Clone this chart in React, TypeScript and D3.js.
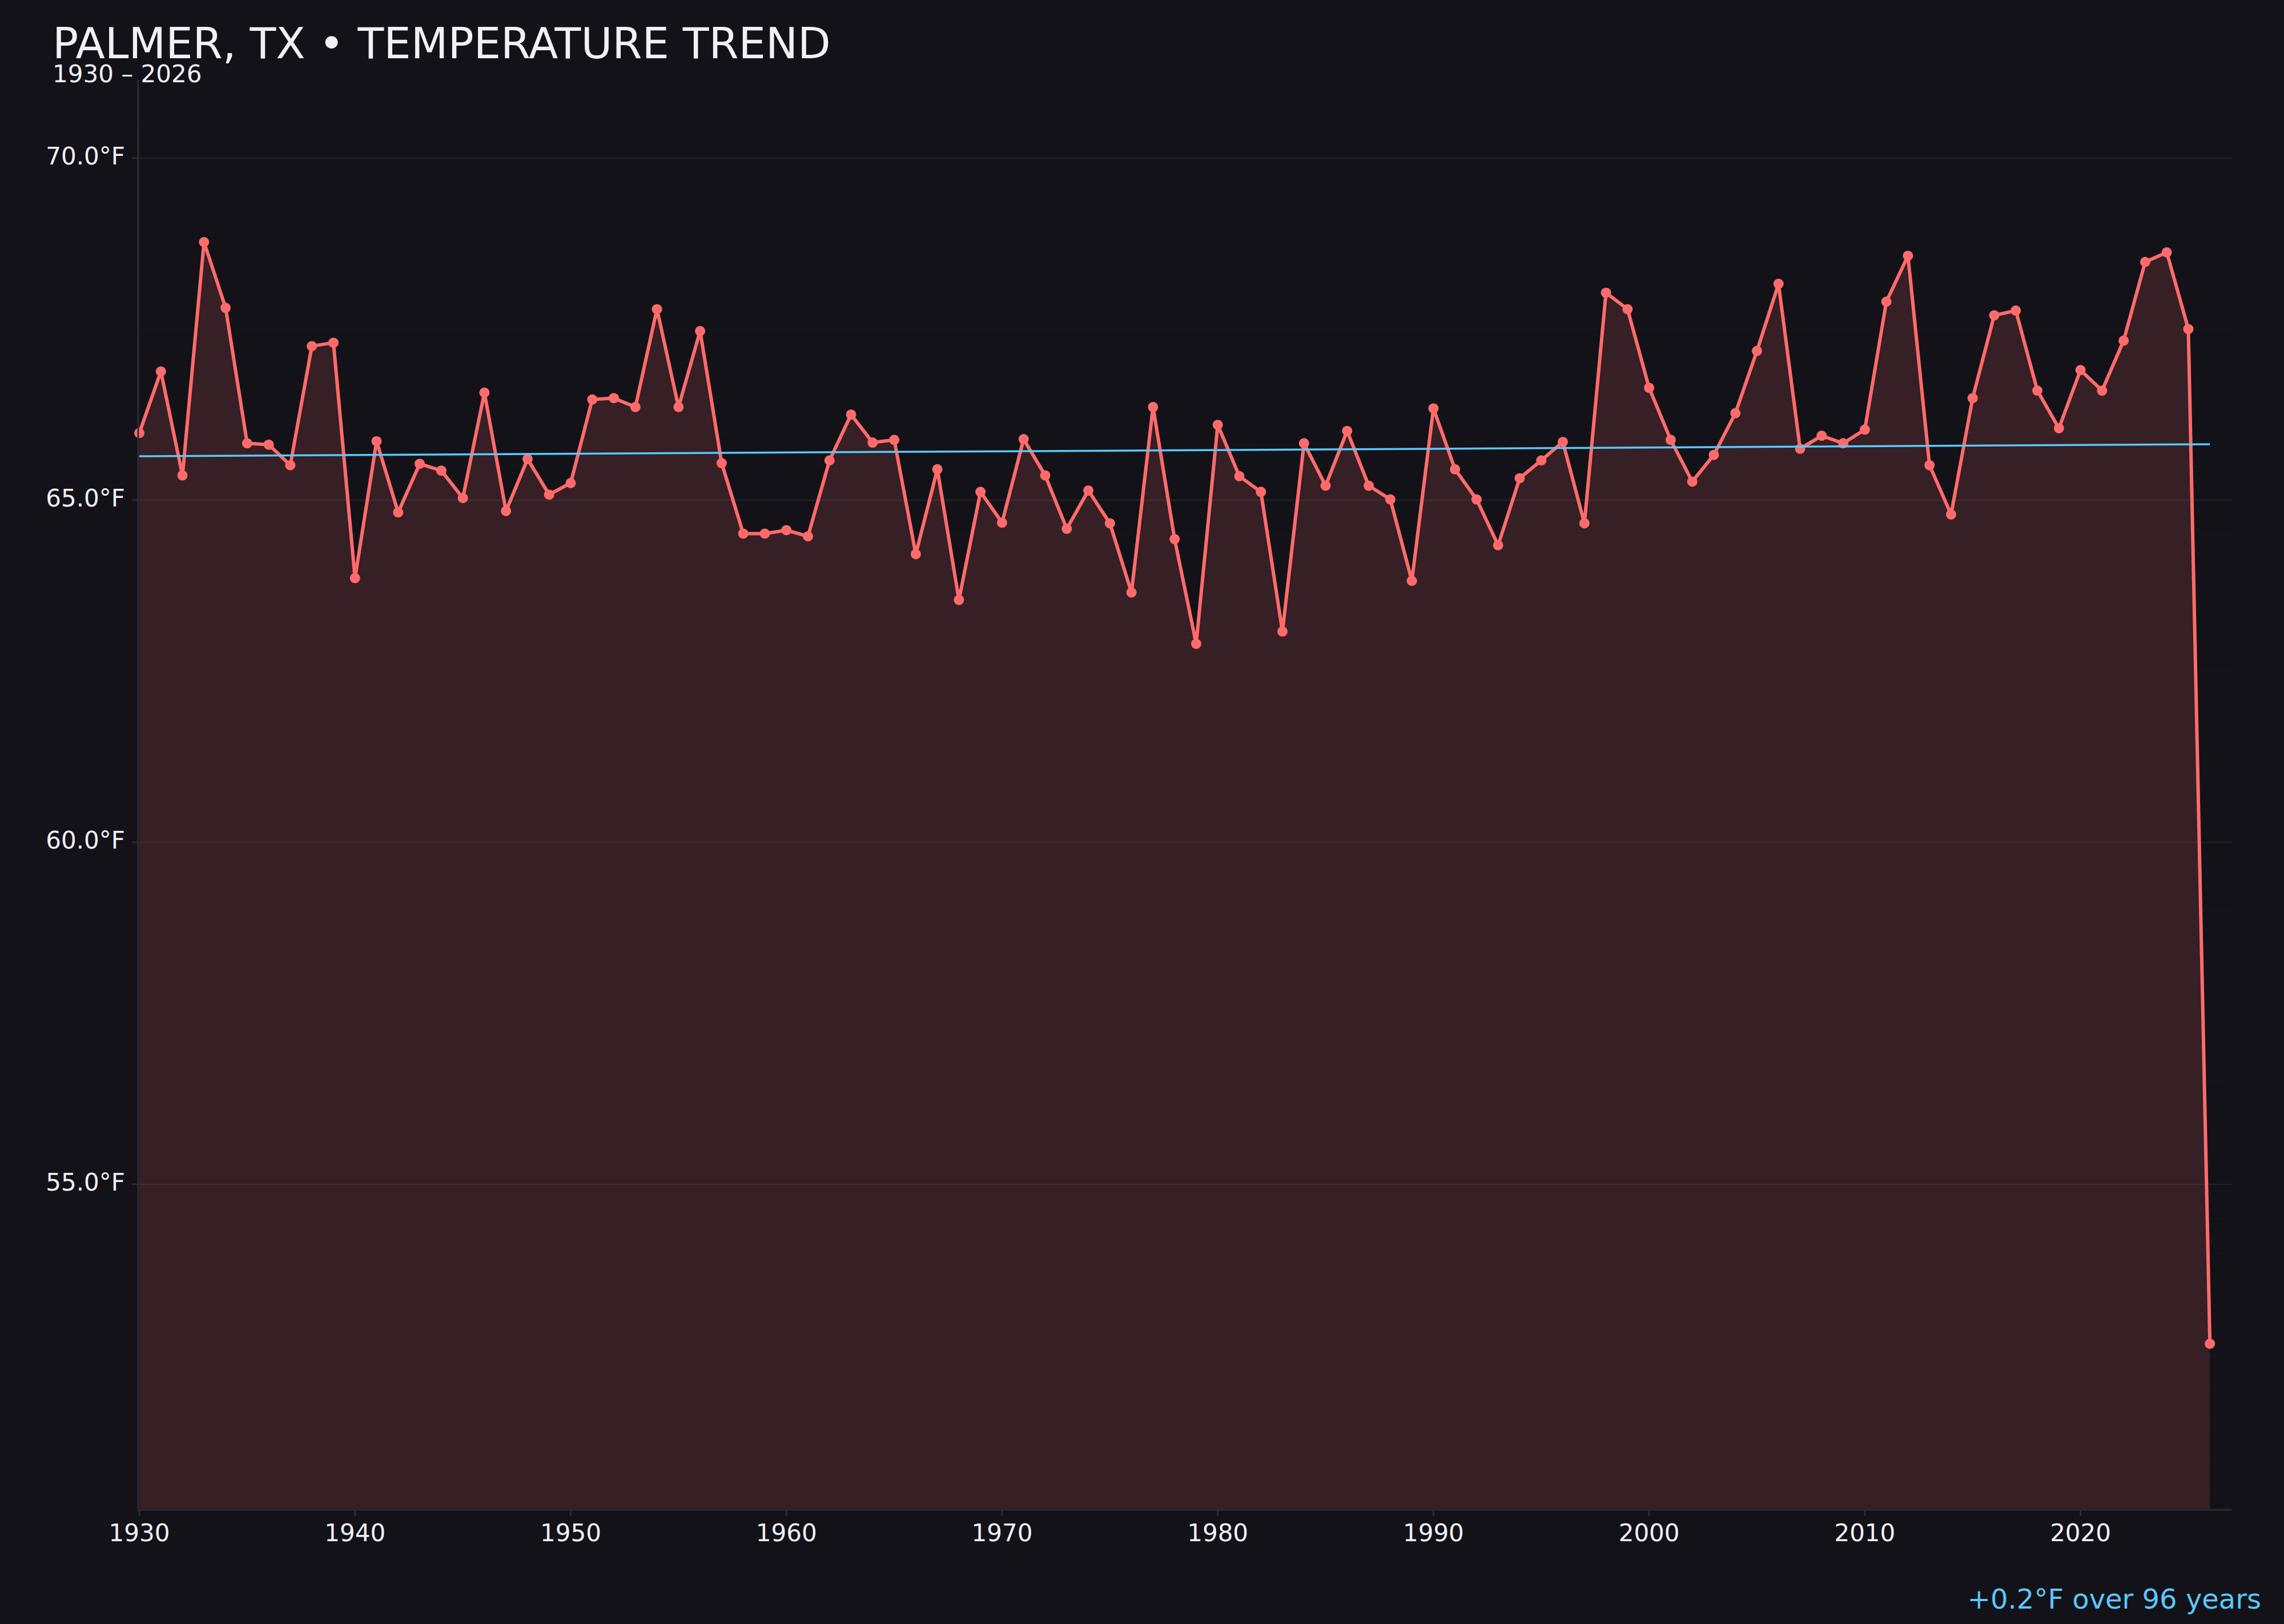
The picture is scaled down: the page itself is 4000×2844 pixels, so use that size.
import React, { useEffect, useRef } from 'react';
import * as d3 from 'd3';

// Annual mean temperature, Palmer TX (°F), 1930 – 2026
const years = d3.range(1930, 2027);
const temps = [
  65.98, 66.88, 65.36, 68.77, 67.81, 65.83, 65.81, 65.51, 67.25, 67.30,
  63.86, 65.86, 64.82, 65.53, 65.43, 65.03, 66.57, 64.84, 65.60, 65.08,
  65.25, 66.47, 66.49, 66.36, 67.79, 66.36, 67.47, 65.54, 64.51, 64.51,
  64.56, 64.47, 65.58, 66.25, 65.84, 65.88, 64.21, 65.45, 63.54, 65.12,
  64.67, 65.89, 65.36, 64.58, 65.14, 64.66, 63.65, 66.36, 64.43, 62.90,
  66.10, 65.35, 65.12, 63.08, 65.83, 65.21, 66.01, 65.21, 65.01, 63.82,
  66.34, 65.45, 65.01, 64.34, 65.32, 65.58, 65.85, 64.66, 68.03, 67.79,
  66.64, 65.88, 65.27, 65.66, 66.27, 67.18, 68.16, 65.75, 65.94, 65.83,
  66.03, 67.90, 68.57, 65.51, 64.79, 66.49, 67.70, 67.77, 66.60, 66.05,
  66.90, 66.60, 67.33, 68.48, 68.62, 67.50, 52.67,
];

const yTicks = [55, 60, 65, 70];
const yMinorTicks = d3.range(101, 143).map(d => d / 2);
const xTicks = d3.range(1930, 2030, 10);
const yDomain = [50.26, 71.14];
const xDomain = [1930, 2027];

const title = 'PALMER, TX • TEMPERATURE TREND';
const subtitle = '1930 – 2026';

const BG = '#131219';
const RED = '#ff6b6b';
const BLUE = '#5ac8fa';
const TEXT = '#f0f0f5';
const AXIS = '#2c2c36';
const FONT = '"DejaVu Sans", sans-serif';

export default function App() {
  const svgRef = useRef<SVGSVGElement>(null);

  useEffect(() => {
    document.body.style.margin = '0';
    document.body.style.background = BG;
    if (!svgRef.current) return;

    const width = 4000;
    const height = 2844;
    const plot = { left: 244, right: 3908, top: 140, bottom: 2642 };

    const data = years.map((year, i) => ({ year, temp: temps[i] }));

    const x = d3.scaleLinear().domain(xDomain).range([plot.left, plot.right]);
    const y = d3.scaleLinear().domain(yDomain).range([plot.bottom, plot.top]);

    // least squares trend
    const mx = d3.mean(data, d => d.year) as number;
    const my = d3.mean(data, d => d.temp) as number;
    const sxy = d3.sum(data, d => (d.year - mx) * (d.temp - my));
    const sxx = d3.sum(data, d => (d.year - mx) ** 2);
    const slope = sxy / sxx;
    const trendAt = (yr: number) => my + slope * (yr - mx);
    const first = years[0];
    const last = years[years.length - 1];
    const change = trendAt(last) - trendAt(first);

    const svg = d3.select(svgRef.current);
    svg.selectAll('*').remove();

    svg.append('rect').attr('width', width).attr('height', height).attr('fill', BG);

    // grid
    svg.append('g')
      .selectAll('line')
      .data(yMinorTicks)
      .join('line')
      .attr('x1', plot.left - 2).attr('x2', plot.right)
      .attr('y1', d => Math.round(y(d)) + 0.5).attr('y2', d => Math.round(y(d)) + 0.5)
      .attr('stroke', 'rgba(255,255,255,0.02)')
      .attr('stroke-width', 1);

    svg.append('g')
      .selectAll('line')
      .data(yTicks)
      .join('line')
      .attr('x1', plot.left - 2).attr('x2', plot.right)
      .attr('y1', d => y(d)).attr('y2', d => y(d))
      .attr('stroke', 'rgba(255,255,255,0.055)')
      .attr('stroke-width', 2.5);

    // area + line
    const area = d3.area<{ year: number; temp: number }>()
      .x(d => x(d.year))
      .y0(plot.bottom)
      .y1(d => y(d.temp));
    svg.append('path').datum(data).attr('d', area).attr('fill', RED).attr('fill-opacity', 0.15);

    const line = d3.line<{ year: number; temp: number }>()
      .x(d => x(d.year))
      .y(d => y(d.temp));
    svg.append('path').datum(data).attr('d', line)
      .attr('fill', 'none').attr('stroke', RED).attr('stroke-width', 6)
      .attr('stroke-linejoin', 'round').attr('stroke-linecap', 'round');

    svg.append('g')
      .selectAll('circle')
      .data(data)
      .join('circle')
      .attr('cx', d => x(d.year))
      .attr('cy', d => y(d.temp))
      .attr('r', 9)
      .attr('fill', RED);

    // trend
    svg.append('line')
      .attr('x1', x(first)).attr('y1', y(trendAt(first)))
      .attr('x2', x(last)).attr('y2', y(trendAt(last)))
      .attr('stroke', BLUE).attr('stroke-width', 3.5);

    // axes
    const axisG = svg.append('g');
    axisG.append('line')
      .attr('x1', plot.left - 2).attr('x2', plot.left - 2)
      .attr('y1', plot.top).attr('y2', plot.bottom + 2)
      .attr('stroke', AXIS).attr('stroke-width', 3);
    axisG.append('line')
      .attr('x1', plot.left - 2).attr('x2', plot.right)
      .attr('y1', plot.bottom + 2).attr('y2', plot.bottom + 2)
      .attr('stroke', AXIS).attr('stroke-width', 3);

    axisG.selectAll('.ytick')
      .data(yTicks)
      .join('line')
      .attr('x1', plot.left - 13).attr('x2', plot.left - 2)
      .attr('y1', d => y(d)).attr('y2', d => y(d))
      .attr('stroke', AXIS).attr('stroke-width', 3);
    axisG.selectAll('.ylabel')
      .data(yTicks)
      .join('text')
      .attr('x', plot.left - 25)
      .attr('y', d => y(d))
      .attr('dy', '0.27em')
      .attr('text-anchor', 'end')
      .attr('font-family', FONT).attr('font-size', 42).attr('fill', TEXT)
      .text(d => `${d.toFixed(1)}°F`);

    axisG.selectAll('.xtick')
      .data(xTicks)
      .join('line')
      .attr('x1', d => x(d)).attr('x2', d => x(d))
      .attr('y1', plot.bottom + 2).attr('y2', plot.bottom + 13)
      .attr('stroke', AXIS).attr('stroke-width', 3);
    axisG.selectAll('.xlabel')
      .data(xTicks)
      .join('text')
      .attr('x', d => x(d))
      .attr('y', plot.bottom + 57)
      .attr('text-anchor', 'middle')
      .attr('font-family', FONT).attr('font-size', 42).attr('fill', TEXT)
      .text(d => String(d));

    // titles
    svg.append('text')
      .attr('x', 92).attr('y', 102)
      .attr('font-family', FONT).attr('font-size', 75).attr('fill', TEXT)
      .text(title);
    svg.append('text')
      .attr('x', 92).attr('y', 144)
      .attr('font-family', FONT).attr('font-size', 42).attr('fill', TEXT)
      .text(subtitle);

    svg.append('text')
      .attr('x', 3960).attr('y', 2817)
      .attr('text-anchor', 'end')
      .attr('font-family', FONT).attr('font-size', 48).attr('fill', BLUE)
      .text(`${change >= 0 ? '+' : ''}${change.toFixed(1)}°F over ${last - first} years`);
  }, []);

  return <svg ref={svgRef} width={4000} height={2844} style={{ display: 'block' }} />;
}
